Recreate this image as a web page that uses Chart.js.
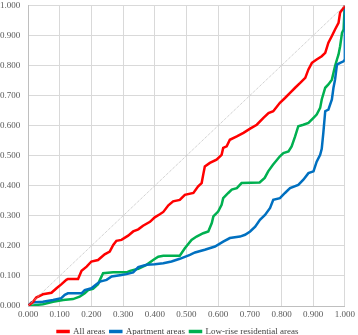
<!DOCTYPE html>
<html>
<head>
<meta charset="utf-8">
<script src="https://cdn.jsdelivr.net/npm/chart.js@4"></script>
<style>
  html, body { margin: 0; padding: 0; background: #fff; }
  #wrap { width: 358px; height: 335px; }
</style>
</head>
<body>
<div id="wrap"><canvas id="lorenz"></canvas></div>
<script>
// cumulative share curves, [x, y] pairs
const allAreas = [
  [0, 0], [0.016, 0.014], [0.026, 0.028], [0.047, 0.039], [0.074, 0.044],
  [0.09, 0.059], [0.105, 0.072], [0.121, 0.087], [0.126, 0.09], [0.158, 0.09],
  [0.169, 0.117], [0.185, 0.131], [0.2, 0.148], [0.221, 0.153], [0.242, 0.172],
  [0.258, 0.181], [0.269, 0.203], [0.279, 0.217], [0.295, 0.22], [0.316, 0.234],
  [0.332, 0.248], [0.348, 0.255], [0.363, 0.267], [0.385, 0.28], [0.4, 0.295],
  [0.416, 0.305], [0.427, 0.313], [0.443, 0.335], [0.458, 0.348], [0.479, 0.353],
  [0.495, 0.37], [0.522, 0.376], [0.537, 0.398], [0.548, 0.409], [0.553, 0.437],
  [0.558, 0.464], [0.574, 0.476], [0.595, 0.487], [0.611, 0.503], [0.616, 0.526],
  [0.627, 0.531], [0.637, 0.553], [0.659, 0.564], [0.68, 0.576], [0.701, 0.59],
  [0.722, 0.603], [0.743, 0.626], [0.759, 0.642], [0.774, 0.648], [0.795, 0.676],
  [0.811, 0.692], [0.827, 0.709], [0.843, 0.726], [0.859, 0.742], [0.875, 0.759],
  [0.885, 0.787], [0.896, 0.809], [0.911, 0.82], [0.927, 0.831], [0.938, 0.842],
  [0.948, 0.876], [0.959, 0.898], [0.969, 0.92], [0.98, 0.942], [0.985, 0.976],
  [0.996, 0.992], [1, 1]
];

const apartmentAreas = [
  [0, 0], [0.011, 0.012], [0.047, 0.014], [0.079, 0.02], [0.105, 0.026],
  [0.116, 0.037], [0.126, 0.042], [0.169, 0.042], [0.179, 0.053], [0.2, 0.059],
  [0.216, 0.072], [0.227, 0.081], [0.248, 0.087], [0.264, 0.098], [0.295, 0.103],
  [0.311, 0.106], [0.332, 0.112], [0.348, 0.129], [0.374, 0.137], [0.4, 0.139],
  [0.427, 0.142], [0.453, 0.148], [0.479, 0.157], [0.511, 0.17], [0.527, 0.178],
  [0.558, 0.187], [0.59, 0.198], [0.616, 0.214], [0.637, 0.226], [0.669, 0.231],
  [0.685, 0.237], [0.701, 0.248], [0.717, 0.264], [0.732, 0.287], [0.748, 0.303],
  [0.764, 0.326], [0.774, 0.353], [0.795, 0.359], [0.811, 0.376], [0.827, 0.392],
  [0.853, 0.403], [0.869, 0.42], [0.885, 0.442], [0.901, 0.448], [0.911, 0.48],
  [0.922, 0.503], [0.927, 0.523], [0.932, 0.576], [0.938, 0.648], [0.948, 0.653],
  [0.959, 0.687], [0.964, 0.726], [0.969, 0.753], [0.975, 0.803], [0.985, 0.809],
  [0.996, 0.814], [1, 0.82], [1, 1]
];

const lowRiseAreas = [
  [0, 0], [0.016, 0.002], [0.047, 0.006], [0.079, 0.014], [0.111, 0.02],
  [0.142, 0.023], [0.163, 0.031], [0.179, 0.042], [0.19, 0.053], [0.205, 0.057],
  [0.221, 0.072], [0.227, 0.087], [0.237, 0.109], [0.269, 0.112], [0.311, 0.112],
  [0.322, 0.117], [0.348, 0.124], [0.374, 0.137], [0.395, 0.153], [0.411, 0.164],
  [0.427, 0.167], [0.479, 0.167], [0.495, 0.192], [0.516, 0.22], [0.532, 0.231],
  [0.553, 0.242], [0.569, 0.248], [0.58, 0.276], [0.585, 0.298], [0.6, 0.314],
  [0.611, 0.337], [0.616, 0.359], [0.632, 0.376], [0.643, 0.387], [0.659, 0.392],
  [0.674, 0.409], [0.731, 0.411], [0.747, 0.426], [0.758, 0.448], [0.773, 0.47],
  [0.795, 0.498], [0.806, 0.509], [0.822, 0.514], [0.832, 0.531], [0.843, 0.564],
  [0.853, 0.598], [0.869, 0.603], [0.885, 0.609], [0.901, 0.626], [0.911, 0.637],
  [0.922, 0.659], [0.927, 0.687], [0.938, 0.726], [0.948, 0.737], [0.959, 0.753],
  [0.969, 0.798], [0.975, 0.82], [0.98, 0.837], [0.985, 0.864], [0.991, 0.909],
  [0.996, 0.92], [0.999, 0.987], [1, 1]
];

const equalityLine = [[0, 0], [1, 1]];

const seriesNames = ["All areas", "Apartment areas", "Low-rise residential areas"];
const seriesColors = ["#ff0000", "#0070c0", "#00b050"];

const toPoints = (pairs) => pairs.map(([x, y]) => ({ x, y }));

function curve(i, pairs) {
  return {
    label: seriesNames[i],
    data: toPoints(pairs),
    showLine: true,
    borderColor: seriesColors[i],
    backgroundColor: seriesColors[i],
    borderWidth: 2.5,
    pointRadius: 0,
    tension: 0,
  };
}

const serif = "'Liberation Serif', 'Times New Roman', serif";
const tickFont = { family: serif, size: 9 };

// keep the legend strip short so the plot can use the height
const shortLegend = {
  id: "shortLegend",
  afterInit(chart) {
    const legend = chart.legend;
    if (!legend) return;
    const fit = legend.fit.bind(legend);
    legend.fit = function () {
      fit();
      this.height = 13;
    };
  },
};

new Chart(document.getElementById("lorenz"), {
  type: "scatter",
  data: {
    datasets: [
      {
        label: "equality",
        data: toPoints(equalityLine),
        showLine: true,
        borderColor: "#bfbfbf",
        borderWidth: 1,
        borderDash: [1, 1],
        pointRadius: 0,
      },
      curve(0, allAreas),
      curve(1, apartmentAreas),
      curve(2, lowRiseAreas),
    ],
  },
  plugins: [shortLegend],
  options: {
    responsive: true,
    maintainAspectRatio: false,
    animation: false,
    layout: { padding: { left: 0, right: 2, top: 1, bottom: 0 } },
    plugins: {
      tooltip: { enabled: false },
      legend: {
        position: "bottom",
        labels: {
          filter: (item) => item.text !== "equality",
          boxWidth: 11,
          boxHeight: 1,
          padding: 5,
          color: "#404040",
          font: { family: serif, size: 9 },
        },
      },
    },
    scales: {
      x: {
        type: "linear",
        min: 0,
        max: 1,
        afterFit: (scale) => { scale.height = 16; },
        ticks: {
          stepSize: 0.1,
          font: tickFont,
          color: "#595959",
          padding: 3,
          maxRotation: 0,
          callback: (v) => v.toFixed(3),
        },
        grid: { color: "#d9d9d9", drawTicks: false },
        border: { color: "#bfbfbf" },
      },
      y: {
        min: 0,
        max: 1,
        afterFit: (scale) => { scale.width = 28; },
        ticks: {
          stepSize: 0.1,
          font: tickFont,
          color: "#595959",
          padding: 0,
          crossAlign: "far",
          callback: (v) => v.toFixed(3),
        },
        grid: { color: "#d9d9d9", drawTicks: false },
        border: { color: "#bfbfbf" },
      },
    },
  },
});
</script>
</body>
</html>
